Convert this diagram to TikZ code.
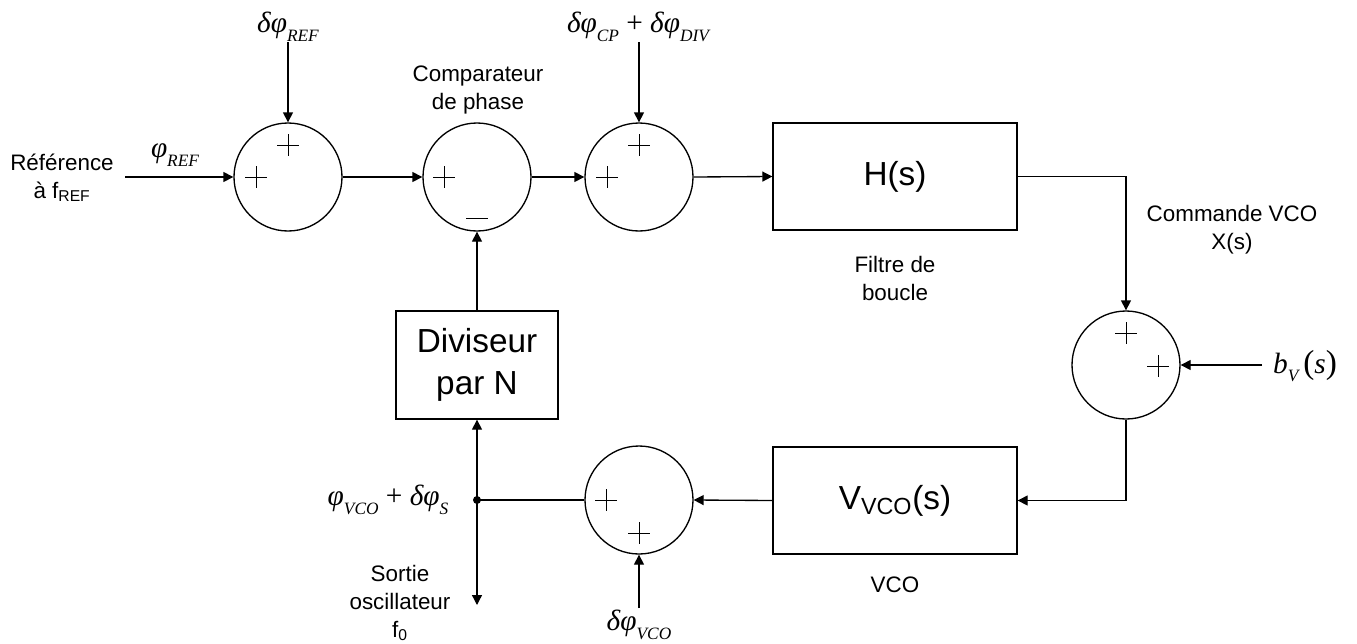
\documentclass[tikz,border=0pt]{standalone}
\usepackage{fontspec}
\setsansfont{Liberation Sans}
\newfontfamily\tms{Liberation Serif}
\usetikzlibrary{arrows.meta,calc}
\newcommand\msub[1]{\raisebox{-0.3em}{\fontsize{13}{13}\selectfont\itshape #1}}
\newcommand\mfont{\tms\fontsize{22}{24}\selectfont}
\begin{document}
\begin{tikzpicture}[x=0.75pt,y=-0.75pt,
  every node/.style={font=\sffamily\fontsize{16.8}{21}\selectfont, align=center, inner sep=0pt},
  summer/.style={circle, draw, line width=1pt, minimum size=81pt, inner sep=0pt},
  block/.style={draw, rectangle, line width=1pt, minimum width=183pt, minimum height=80.25pt, font=\sffamily\fontsize{25}{31.5}\selectfont},
  arr/.style={line width=1pt, -{Triangle[length=7.5pt,width=7.5pt]}},
  wire/.style={line width=1pt},
  mlab/.style={font=\mfont},
  plusmk/.pic={\draw[line width=0.75pt] (-11,0)--(11,0) (0,-11)--(0,11);}
]
\useasboundingbox (0,0) rectangle (1357,643);
% blocks
\node[summer] (s1) at (288,177) {};
\node[summer] (s2) at (477,177) {};
\node[summer] (s3) at (639,177) {};
\node[block] (H) at (895,176.5) {H(s)};
\node[summer] (s4) at (1126,365) {};
\node[block] (V) at (895,500.5) {V\textsubscript{VCO}(s)};
\node[summer] (s5) at (639,500) {};
\node[block, minimum width=121.5pt, minimum height=81pt] (D) at (477,365) {Diviseur\\par N};
% signs
\pic at ($(s1)+(-32,0)$) {plusmk};
\pic at ($(s1)+(0,-32)$) {plusmk};
\pic at ($(s2)+(-33,0)$) {plusmk};
\draw[line width=0.75pt] ($(s2)+(-11,41)$) -- ++(22,0);
\pic at ($(s3)+(-32,0)$) {plusmk};
\pic at ($(s3)+(0,-32)$) {plusmk};
\pic at ($(s4)+(0,-32)$) {plusmk};
\pic at ($(s4)+(32,1)$) {plusmk};
\pic at ($(s5)+(-33,0)$) {plusmk};
\pic at ($(s5)+(0,33)$) {plusmk};
% free ends
\coordinate (in1) at (125,177);
\coordinate (dref) at (288,42);
\coordinate (dcp) at (639,42);
\coordinate (bv) at (1262,365);
\coordinate (dvco) at (639,608);
\coordinate (out) at (477,605);
\coordinate (j) at (477,500);
\fill (j) circle (3pt);
% connectors
\draw[arr] (in1) -- (s1.west);
\draw[arr] (dref) -- (s1.north);
\draw[arr] (s1.east) -- (s2.west);
\draw[arr] (s2.east) -- (s3.west);
\draw[arr] (dcp) -- (s3.north);
\draw[arr] (s3.east) -- (H.west);
\draw[arr] (H.east) -| (s4.north);
\draw[arr] (bv) -- (s4.east);
\draw[arr] (s4.south) |- (V.east);
\draw[arr] (V.west) -- (s5.east);
\draw[arr] (dvco) -- (s5.south);
\draw[wire] (s5.west) -- (j);
\draw[arr] (j) -- (D.south);
\draw[arr] (j) -- (out);
\draw[arr] (D.north) -- (s2.south);
% labels
\node (lref) at (62,178) {Référence\\à f\textsubscript{REF}};
\node[mlab] (lphiref) at (175,155) {\textit{φ}\msub{REF}};
\node[mlab] (ldref) at (288,27) {\textit{δφ}\msub{REF}};
\node (lcomp) at (478,90) {Comparateur\\de phase};
\node[mlab] (ldcp) at (638,27) {\textit{δφ}\msub{CP} + \textit{δφ}\msub{DIV}};
\node (lfilt) at (895,278) {Filtre de\\boucle};
\node (lcmd) at (1232,230) {Commande VCO\\X(s)};
\node[mlab] (lbv) at (1305,366) {\textit{b}\msub{V}\,{\fontsize{25}{25}\selectfont(}\textit{s}{\fontsize{25}{25}\selectfont)}};
\node (lvco) at (895,585) {VCO};
\node[mlab] (lphivco) at (388,500) {\textit{φ}\msub{VCO} + \textit{δφ}\msub{S}};
\node (lsortie) at (400,603) {Sortie\\oscillateur\\f\textsubscript{0}};
\node[mlab] (ldvco) at (639,625) {\textit{δφ}\msub{VCO}};
\end{tikzpicture}
\end{document}
